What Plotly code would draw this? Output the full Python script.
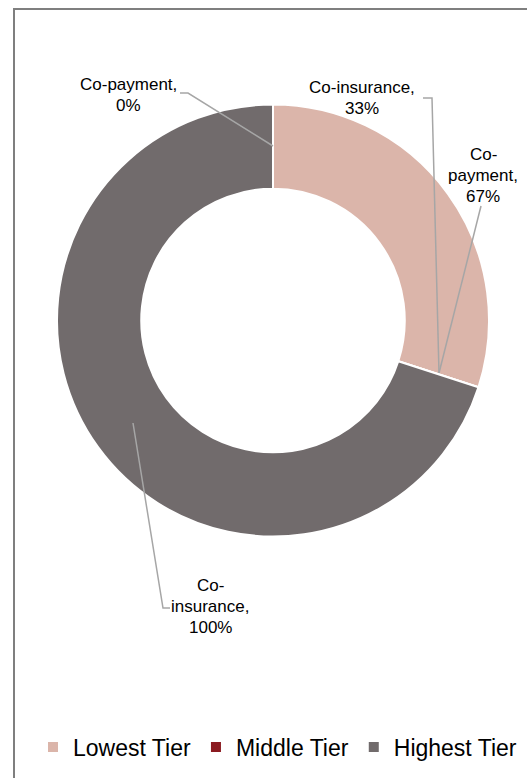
import plotly.graph_objects as go

# Share of plans in each cost-sharing tier
tiers = ["Lowest Tier", "Middle Tier", "Highest Tier"]
tier_share = [30, 0, 70]
tier_colors = ["#DBB5AA", "#8B1A20", "#716B6C"]

# Data labels: cost-sharing type and percentage within tier
label_lines = [
    ["Co-payment,", "0%"],
    ["Co-insurance,", "33%"],
    ["Co-", "payment,", "67%"],
    ["Co-", "insurance,", "100%"],
]
label_centers = [(128, 95), (362, 98), (483, 175), (210, 606)]  # px
leader_paths = [
    [(180, 93), (188, 93), (273, 146)],
    [(423, 98), (432, 98), (439, 373)],
    [(481, 206), (439, 373)],
    [(133, 423), (163, 608), (170, 608)],
]

W, H = 527, 778
FONT = "Liberation Sans, Arial, sans-serif"


def px(x, y):
    return x / W, 1 - y / H


fig = go.Figure(
    go.Pie(
        labels=tiers,
        values=tier_share,
        hole=0.61,
        sort=False,
        direction="clockwise",
        rotation=0,
        textinfo="none",
        marker=dict(colors=tier_colors, line=dict(color="white", width=2)),
        domain=dict(x=[57 / W, 489 / W], y=[1 - 537 / H, 1 - 104 / H]),
    )
)

shapes = []
# chart frame
shapes.append(dict(type="rect", xref="paper", yref="paper",
                   x0=14 / W, x1=1.05, y0=-0.05, y1=1 - 9 / H,
                   line=dict(color="#7F7F7F", width=2), layer="below"))
# leader lines
for pts in leader_paths:
    d = ""
    for i, (x, y) in enumerate(pts):
        fx, fy = px(x, y)
        d += ("M" if i == 0 else "L") + f"{fx},{fy} "
    shapes.append(dict(type="path", xref="paper", yref="paper", path=d.strip(),
                       line=dict(color="#A6A6A6", width=1.5)))

annotations = []
LINE_H = 21
for lines, (cx, cy) in zip(label_lines, label_centers):
    n = len(lines)
    for i, t in enumerate(lines):
        y = cy + (i - (n - 1) / 2) * LINE_H
        fx, fy = px(cx, y)
        annotations.append(dict(text=t, x=fx, y=fy, xref="paper", yref="paper",
                                showarrow=False, xanchor="center", yanchor="middle",
                                font=dict(family=FONT, size=17, color="#000000")))

fig.update_layout(
    width=W,
    height=H,
    margin=dict(l=0, r=0, t=0, b=0),
    paper_bgcolor="white",
    plot_bgcolor="white",
    showlegend=True,
    legend=dict(orientation="h", x=0.5 + 14 / W, xanchor="center", y=1 - 747 / H,
                yanchor="middle", font=dict(family=FONT, size=23, color="#000000"),
                itemclick=False, itemwidth=30),
    shapes=shapes,
    annotations=annotations,
)

fig.write_html("out.html")
